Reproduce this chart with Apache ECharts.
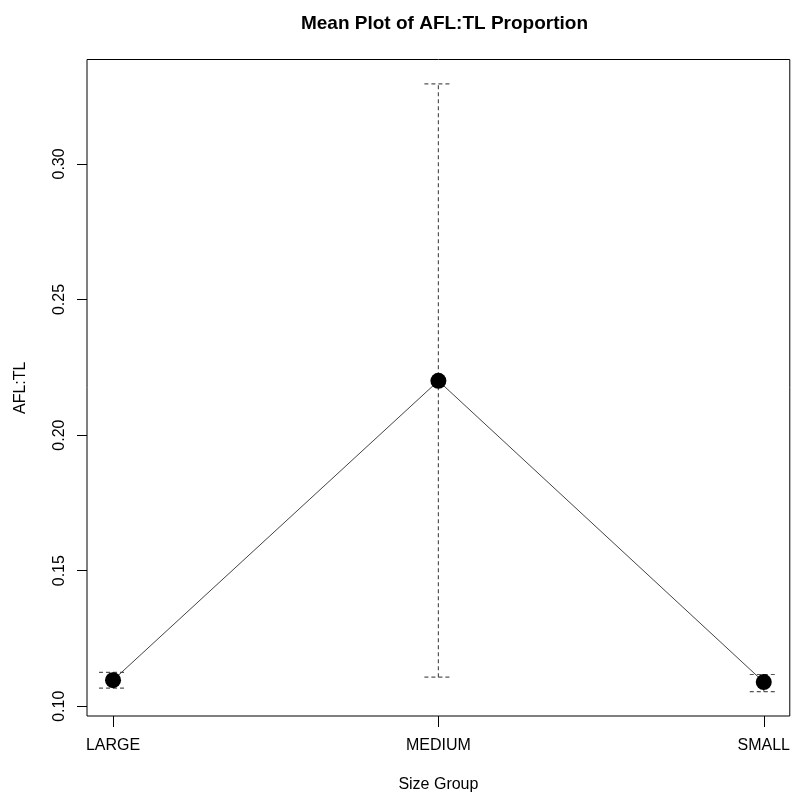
<!DOCTYPE html>
<html>
<head>
<meta charset="utf-8">
<script src="https://cdn.jsdelivr.net/npm/echarts@6/dist/echarts.min.js"></script>
<style>
html,body{margin:0;padding:0;background:#fff;}
#chart{width:793px;height:798px;}
</style>
</head>
<body>
<div id="chart"></div>
<script>
var categories = ['LARGE', 'MEDIUM', 'SMALL'];
var means = [0.1096, 0.2200, 0.1089];
var upper = [0.1125, 0.3295, 0.1117];
var lower = [0.1067, 0.1107, 0.1054];
var yTicks = [0.10, 0.15, 0.20, 0.25, 0.30];
var xPositions = [1, 2, 3];

var FONT = '"Liberation Sans", Arial, sans-serif';
var chart = echarts.init(document.getElementById('chart'), null, {renderer: 'canvas'});

var meanData = xPositions.map(function (x, i) { return [x, means[i]]; });
var errData = xPositions.map(function (x, i) { return [x, lower[i], upper[i]]; });

var option = {
  backgroundColor: '#ffffff',
  animation: false,
  title: {
    text: 'Mean Plot of AFL:TL Proportion',
    left: 439.5,
    textAlign: 'center',
    top: 9,
    textStyle: {fontFamily: FONT, fontSize: 19, fontWeight: 'bold', color: '#000'}
  },
  grid: {
    left: 87, right: 1, top: 59.5, bottom: 77.5,
    show: true, borderColor: '#000', borderWidth: 1, backgroundColor: 'transparent'
  },
  xAxis: {
    type: 'value',
    min: 0.92, max: 3.08,
    name: 'Size Group',
    nameLocation: 'middle',
    nameGap: 61,
    nameTextStyle: {fontFamily: FONT, fontSize: 16, color: '#000'},
    axisLine: {show: false},
    splitLine: {show: false},
    axisTick: {show: true, customValues: xPositions, length: 11, inside: false, lineStyle: {color: '#000'}},
    axisLabel: {
      customValues: xPositions,
      margin: 22,
      fontFamily: FONT, fontSize: 16, color: '#000',
      formatter: function (v) { return categories[Math.round(v) - 1]; }
    }
  },
  yAxis: {
    type: 'value',
    min: 0.0964, max: 0.3385,
    name: 'AFL:TL',
    nameLocation: 'middle',
    nameGap: 58,
    nameTextStyle: {fontFamily: FONT, fontSize: 16, color: '#000'},
    axisLine: {show: false},
    splitLine: {show: false},
    axisTick: {show: true, customValues: yTicks, length: 10, lineStyle: {color: '#000'}},
    axisLabel: {
      customValues: yTicks,
      rotate: 90,
      margin: 19,
      fontFamily: FONT, fontSize: 16, color: '#000',
      formatter: function (v) { return v.toFixed(2); }
    }
  },
  series: [
    {
      type: 'custom',
      data: errData,
      z: 1,
      renderItem: function (params, api) {
        var x = api.value(0);
        var lo = api.coord([x, api.value(1)]);
        var hi = api.coord([x, api.value(2)]);
        var hw = 14;
        var style = {stroke: '#555', lineWidth: 1.2, lineDash: [4, 3], fill: null};
        return {
          type: 'group',
          children: [
            {type: 'line', shape: {x1: lo[0], y1: lo[1], x2: hi[0], y2: hi[1]}, style: style},
            {type: 'line', shape: {x1: hi[0] - hw, y1: hi[1], x2: hi[0] + hw, y2: hi[1]}, style: style},
            {type: 'line', shape: {x1: lo[0] - hw, y1: lo[1], x2: lo[0] + hw, y2: lo[1]}, style: style}
          ]
        };
      }
    },
    {
      type: 'line',
      data: meanData,
      z: 3,
      symbol: 'circle',
      symbolSize: 16,
      itemStyle: {color: '#000'},
      lineStyle: {color: '#444', width: 1}
    }
  ]
};
chart.setOption(option);
</script>
</body>
</html>
